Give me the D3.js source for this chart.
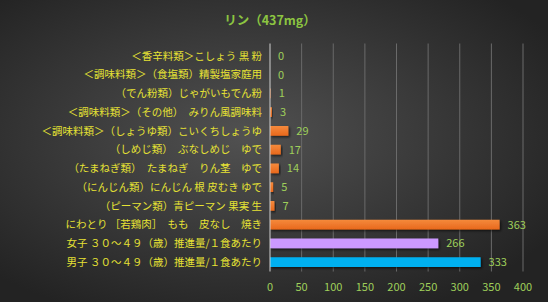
<!DOCTYPE html>
<html>
<head>
<meta charset="utf-8">
<script src="https://cdn.jsdelivr.net/npm/d3@7/dist/d3.min.js"></script>
<style>
  body { margin: 0; background: #2a2a2a; }
  svg { display: block; }
</style>
</head>
<body>
<div id="chart"></div>
<script>
const categories = [
  "＜香辛料類＞こしょう 黒 粉",
  "＜調味料類＞（食塩類）精製塩家庭用",
  "（でん粉類）じゃがいもでん粉",
  "＜調味料類＞（その他）　みりん風調味料",
  "＜調味料類＞（しょうゆ類）こいくちしょうゆ",
  "（しめじ類）　ぶなしめじ　ゆで",
  "（たまねぎ類）　たまねぎ　りん茎　ゆで",
  "（にんじん類）にんじん 根 皮むき ゆで",
  "（ピーマン類）青ピーマン 果実 生",
  "にわとり ［若鶏肉］　もも　皮なし　焼き",
  "女子 ３０～４９（歳）推進量/１食あたり",
  "男子 ３０～４９（歳）推進量/１食あたり"
];
const values = [0, 0, 1, 3, 29, 17, 14, 5, 7, 363, 266, 333];
const barColors = ["#f07a2a", "#f07a2a", "#f07a2a", "#f07a2a", "#f07a2a", "#f07a2a",
                   "#f07a2a", "#f07a2a", "#f07a2a", "#f07a2a", "#cc99ff", "#00b0f0"];
const xTicks = [0, 50, 100, 150, 200, 250, 300, 350, 400];

const w = 548, h = 302;
const margin = {top: 46.5, right: 25, bottom: 30.5, left: 270};

const svg = d3.select("#chart").append("svg")
  .attr("width", w).attr("height", h);

const defs = svg.append("defs");
const bg = defs.append("radialGradient").attr("id", "bg")
  .attr("cx", "45%").attr("cy", "45%").attr("r", "65%");
bg.append("stop").attr("offset", "0%").attr("stop-color", "#515151");
bg.append("stop").attr("offset", "100%").attr("stop-color", "#232323");

const orange = defs.append("linearGradient").attr("id", "orange")
  .attr("x1", 0).attr("y1", 0).attr("x2", 0).attr("y2", 1);
orange.append("stop").attr("offset", "0%").attr("stop-color", "#f58a3c");
orange.append("stop").attr("offset", "100%").attr("stop-color", "#e8681c");

const shadow = defs.append("filter").attr("id", "shadow")
  .attr("x", "-10%").attr("y", "-50%").attr("width", "130%").attr("height", "250%");
shadow.append("feDropShadow").attr("dx", 1.5).attr("dy", 1.5)
  .attr("stdDeviation", 1).attr("flood-color", "#000").attr("flood-opacity", 0.6);

svg.append("rect").attr("width", w).attr("height", h).attr("fill", "url(#bg)");

const x = d3.scaleLinear().domain([0, 400])
  .range([margin.left, w - margin.right]);
const y = d3.scaleBand().domain(categories)
  .range([margin.top, h - margin.bottom]).paddingInner(0.48).paddingOuter(0.24);

// grid
svg.append("g")
  .selectAll("line")
  .data(xTicks.slice(1))
  .enter()
  .append("line")
  .attr("x1", d => x(d)).attr("x2", d => x(d))
  .attr("y1", margin.top - 3).attr("y2", h - margin.bottom)
  .attr("stroke", "#6a6a6a").attr("stroke-width", 1);

// bars
svg.append("g")
  .selectAll("rect")
  .data(values)
  .enter()
  .append("rect")
  .attr("x", x(0))
  .attr("y", (d, i) => y(categories[i]))
  .attr("width", d => Math.max(0, x(d) - x(0)))
  .attr("height", y.bandwidth())
  .attr("fill", (d, i) => i < 10 ? "url(#orange)" : barColors[i])
  .attr("filter", "url(#shadow)");

// axis line
svg.append("line")
  .attr("x1", x(0)).attr("x2", x(0))
  .attr("y1", margin.top - 3).attr("y2", h - margin.bottom)
  .attr("stroke", "#d0d0d0").attr("stroke-width", 1);

const font = "'Noto Sans CJK JP', 'Noto Sans', sans-serif";

// category labels
svg.append("g")
  .selectAll("text")
  .data(categories)
  .enter()
  .append("text")
  .attr("x", margin.left - 8)
  .attr("y", d => y(d) + y.bandwidth() / 2)
  .attr("dy", "0.36em")
  .attr("text-anchor", "end")
  .attr("fill", "#e6e234")
  .style("font-family", font)
  .style("font-size", "10.5px")
  .text(d => d);

// value labels
svg.append("g")
  .selectAll("text")
  .data(values)
  .enter()
  .append("text")
  .attr("x", d => x(d) + 8)
  .attr("y", (d, i) => y(categories[i]) + y.bandwidth() / 2)
  .attr("dy", "0.36em")
  .attr("fill", "#9fcf5a")
  .style("font-family", font)
  .style("font-size", "11px")
  .text(d => d);

// x tick labels
svg.append("g")
  .selectAll("text")
  .data(xTicks)
  .enter()
  .append("text")
  .attr("x", d => x(d))
  .attr("y", h - margin.bottom + 16)
  .attr("dy", "0.36em")
  .attr("text-anchor", "middle")
  .attr("fill", "#9fcf5a")
  .style("font-family", font)
  .style("font-size", "11px")
  .text(d => d);

// title
svg.append("text")
  .attr("x", 270)
  .attr("y", 20)
  .attr("dy", "0.36em")
  .attr("text-anchor", "middle")
  .attr("fill", "#8cc541")
  .style("font-family", font)
  .style("font-size", "12.5px")
  .style("font-weight", "bold")
  .text("リン（437mg）");
</script>
</body>
</html>
